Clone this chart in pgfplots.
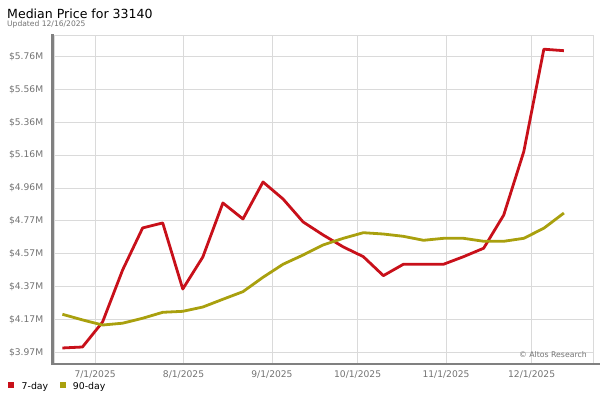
\documentclass[border=0pt]{standalone}
\usepackage{pgfplots}
\pgfplotsset{compat=1.18}
\usepackage{fontspec}
\setmainfont{DejaVu Sans}
\definecolor{sevred}{HTML}{C8101A}
\definecolor{ninoli}{HTML}{A9A00E}
\definecolor{gridg}{HTML}{DADADA}
\definecolor{axg}{HTML}{808080}
\definecolor{lblg}{HTML}{727272}
\begin{document}
\begin{tikzpicture}
\begin{axis}[
  scale only axis,
  width=539bp, height=329bp,
  xmin=-14.4, xmax=174.5, ymin=3.899, ymax=5.891,
  xtick={0,31,62,92,123,153},
  xticklabels={7/1/2025,8/1/2025,9/1/2025,10/1/2025,11/1/2025,12/1/2025},
  ytick={3.97,4.1689,4.3678,4.5667,4.7656,4.9645,5.1634,5.3623,5.5612,5.7601},
  yticklabels={\$3.97M,\$4.17M,\$4.37M,\$4.57M,\$4.77M,\$4.96M,\$5.16M,\$5.36M,\$5.56M,\$5.76M},
  grid=major, major grid style={gridg, line width=0.9bp},
  axis line style={draw=gridg, line width=0.9bp},
  tick style={draw=none},
  ticklabel style={font=\fontsize{9.2}{11}\selectfont, text=lblg},
  x tick label style={yshift=-3bp},
  y tick label style={xshift=-7.3bp},
  clip=false,
]
\coordinate (O) at (rel axis cs:0,0);
\addplot[sevred, line width=2.8bp, line join=round] coordinates {
(-11.45,3.996) (-4.42,4.002) (2.61,4.153) (9.64,4.468) (16.67,4.723) (23.70,4.753)
(30.73,4.353) (37.76,4.547) (44.79,4.874) (51.82,4.777) (58.85,5.001) (65.88,4.898)
(72.91,4.759) (79.94,4.680) (86.97,4.608) (94.00,4.549) (101.03,4.434) (108.06,4.503)
(115.09,4.503) (122.12,4.503) (129.15,4.549) (136.18,4.600) (143.21,4.801) (150.24,5.185)
(157.27,5.805) (164.30,5.796)
};
\addplot[ninoli, line width=2.8bp, line join=round] coordinates {
(-11.45,4.200) (-4.42,4.166) (2.61,4.135) (9.64,4.146) (16.67,4.176) (23.70,4.212)
(30.73,4.218) (37.76,4.244) (44.79,4.291) (51.82,4.337) (58.85,4.424) (65.88,4.503)
(72.91,4.559) (79.94,4.620) (86.97,4.660) (94.00,4.694) (101.03,4.686) (108.06,4.672)
(115.09,4.648) (122.12,4.660) (129.15,4.660) (136.18,4.642) (143.21,4.642) (150.24,4.660)
(157.27,4.721) (164.30,4.813)
};
\end{axis}
\begin{scope}[shift={(O)}, xshift=-54bp, yshift=-36bp, x=1bp, y=1bp]
% axis shadow lines
\draw[axg, line width=2.6bp] (52.3,34.8) -- (52.3,366);
\draw[axg, line width=2.6bp] (51,36) -- (600,36);
% title
\node[anchor=base west, inner sep=0, font=\fontsize{12.6}{14}\selectfont] at (7,382) {Median Price for 33140};
\node[anchor=base west, inner sep=0, font=\fontsize{7.6}{9}\selectfont, text=lblg] at (7,373.3) {Updated 12/16/2025};
% copyright
\node[anchor=base east, inner sep=0, font=\fontsize{7.8}{9}\selectfont, text=lblg] at (587,42.7) {© Altos Research};
% legend
\fill[sevred] (8,11.7) rectangle (14,17.7);
\node[anchor=base west, inner sep=0, font=\fontsize{9.4}{11}\selectfont] at (21.5,10.7) {7-day};
\fill[ninoli] (59.5,11.7) rectangle (65.5,17.7);
\node[anchor=base west, inner sep=0, font=\fontsize{9.4}{11}\selectfont] at (72.7,10.7) {90-day};
\pgfresetboundingbox
\path[use as bounding box] (0,0) rectangle (600,400);
\end{scope}
\end{tikzpicture}
\end{document}
